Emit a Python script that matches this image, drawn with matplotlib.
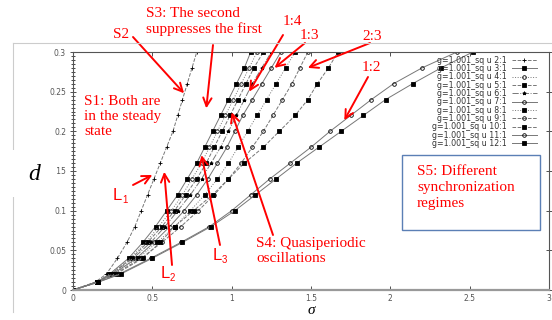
import matplotlib
matplotlib.use("Agg")
import matplotlib.pyplot as plt
from matplotlib.patches import Rectangle
from matplotlib.lines import Line2D
import numpy as np

W, H = 552, 320

# d levels shared by all curves
d_levels = [0, 0.01, 0.02, 0.04, 0.06, 0.08, 0.10, 0.12, 0.14, 0.16, 0.18, 0.20, 0.22, 0.24, 0.26, 0.28, 0.30]

# sigma for each curve, at d_levels
sig_2 = [0, .14, .21, .28, .34, .39, .43, .47, .51, .55, .59, .63, .66, .69, .72, .75, .78]
sig_3 = [0, .15, .23, .35, .44, .52, .59, .66, .72, .78, .83, .88, .93, .98, 1.03, 1.08, 1.12]
sig_4 = [0, .15, .23, .36, .46, .54, .62, .69, .75, .81, .86, .91, .96, 1.01, 1.06, 1.11, 1.16]
sig_5 = [0, .15, .24, .37, .47, .56, .64, .71, .78, .84, .89, .94, .99, 1.04, 1.09, 1.14, 1.20]
sig_6 = [0, .15, .24, .38, .49, .58, .66, .74, .81, .87, .93, .98, 1.03, 1.08, 1.13, 1.19, 1.25]
sig_7 = [0, .15, .25, .40, .51, .61, .70, .78, .85, .91, .97, 1.02, 1.07, 1.13, 1.19, 1.25, 1.31]
sig_8 = [0, .15, .25, .41, .53, .64, .74, .83, .91, .98, 1.04, 1.10, 1.16, 1.22, 1.28, 1.34, 1.40]
sig_9 = [0, .16, .26, .43, .56, .68, .79, .89, .98, 1.06, 1.13, 1.20, 1.26, 1.32, 1.38, 1.43, 1.48]
sig_10 = [0, .16, .27, .44, .55, .64, .76, .88, .98, 1.08, 1.20, 1.30, 1.40, 1.48, 1.54, 1.61, 1.67]
sig_11 = [0, .16, .29, .49, .68, .86, 1.0, 1.12, 1.24, 1.37, 1.50, 1.62, 1.75, 1.88, 2.02, 2.20, 2.42]
sig_12 = [0, .16, .30, .50, .69, .87, 1.02, 1.15, 1.28, 1.41, 1.55, 1.69, 1.83, 1.97, 2.14, 2.32, 2.52]

ratios = ["2:1", "3:1", "4:1", "5:1", "6:1", "7:1", "8:1", "9:1", "10:1", "11:1", "12:1"]
curves = [sig_2, sig_3, sig_4, sig_5, sig_6, sig_7, sig_8, sig_9, sig_10, sig_11, sig_12]
labels = ["g=1.001_sq u " + r for r in ratios]

styles = [("--", "+", "k"), ("-", "s", "k"), (":", "o", "none"), ("--", "s", "k"),
          ("-.", "*", "k"), ("-", "o", "none"), (":", "s", "k"), ("--", "o", "none"),
          ("--", "s", "k"), ("-", "o", "none"), ("-", "s", "k")]

fig = plt.figure(figsize=(W / 100, H / 100), dpi=100)
ax = fig.add_axes([73 / W, 1 - 290 / H, (549 - 73) / W, (290 - 52) / H])

for sig, lab, (ls, mk, fc) in zip(curves, labels, styles):
    ax.plot(sig, d_levels, ls=ls, color="#777777", lw=0.7, marker=mk, ms=2.6,
            mfc=fc, mec="k", mew=0.6, label=lab)

ax.set_xlim(0, 3)
ax.set_ylim(0, 0.3)
ax.set_xticks([0, 0.5, 1, 1.5, 2, 2.5, 3])
ax.set_xticklabels(["0", "0.5", "1", "1.5", "2", "2.5", "3"])
ax.set_yticks([0, 0.05, 0.1, 0.15, 0.2, 0.25, 0.3])
ax.set_yticklabels(["0", "0.05", "0.1", "0.15", "0.2", "0.25", "0.3"])
ax.set_yticks(np.arange(0, 0.3001, 0.005), minor=True)
ax.tick_params(axis="both", labelsize=5.5, labelcolor="#555555", color="#333333",
               direction="in", top=True, right=True, length=3, width=0.6, pad=3)
ax.tick_params(axis="y", which="minor", direction="inout", length=3, width=0.5, left=True, right=False)
ax.tick_params(axis="y", which="major", direction="inout", length=4)
for s in ax.spines.values():
    s.set_color("#555555")
    s.set_linewidth(0.8)
ax.spines["bottom"].set_linewidth(1.6)
ax.spines["bottom"].set_color("#999999")

leg = ax.legend(loc="upper right", bbox_to_anchor=(0.985, 1.005), fontsize=5.7, frameon=False,
                markerfirst=False, labelspacing=-0.08, handlelength=3.2, handletextpad=0.6,
                borderaxespad=0.2)
for t in leg.get_texts():
    t.set_color("#333333")

# outer frame of the pasted picture
fig.add_artist(Line2D([13 / W, 1], [1 - 43 / H, 1 - 43 / H], color="#cccccc", lw=0.8))
fig.add_artist(Line2D([13 / W, 13 / W], [1 - 43 / H, 1 - 312 / H], color="#cccccc", lw=0.8))

# white patch behind the d label
fig.add_artist(Rectangle((12 / W, 1 - 197 / H), 45 / W, 47 / H, transform=fig.transFigure,
                         facecolor="white", edgecolor="none", zorder=5))
fig.text(28 / W, 1 - 174 / H, "d", fontsize=17, family="Liberation Serif", style="italic",
         va="center", ha="left", zorder=6)
fig.text(311 / W, 1 - 311 / H, "σ", fontsize=11, family="Liberation Serif", style="italic",
         va="center", ha="center")

red = "#ff0000"
serif = "Liberation Serif"


def px(x, y):
    return (x / W, 1 - y / H)


def label(x, y, s, size=11, spacing=1.2):
    fig.text(x / W, 1 - y / H, s, color=red, fontsize=size, family=serif, va="top", ha="left",
             linespacing=spacing, zorder=6)


def arrow(tip, start):
    ax.annotate("", xy=tip, xycoords="data", xytext=px(*start), textcoords="figure fraction",
                arrowprops=dict(arrowstyle="->", color=red, lw=1.4, mutation_scale=15,
                                shrinkA=0, shrinkB=0), zorder=6)


label(113, 28, "S2")
label(146, 7, "S3: The second\nsuppresses the first")
label(84, 95, "S1: Both are\nin the steady\nstate")
label(283, 15, "1:4")
label(300, 29, "1:3")
label(362, 30, "2:3")
label(362, 61, "1:2")
label(256, 237, "S4: Quasiperiodic\noscillations")

arrow((0.70, 0.248), (133, 37))
arrow((0.84, 0.229), (213, 45))
arrow((1.11, 0.250), (283, 35))
arrow((1.27, 0.280), (305, 43))
arrow((1.48, 0.280), (370, 43))
arrow((1.71, 0.214), (368, 77))
arrow((1.00, 0.224), (273, 235))
arrow((0.50, 0.145), (133, 185))
arrow((0.575, 0.149), (172, 265))
arrow((0.81, 0.170), (220, 245))

# L labels with subscripts
for (lx, ly, sub) in [(113, 188, "1"), (161, 266, "2"), (213, 248, "3")]:
    fig.text(lx / W, 1 - ly / H, "L", color=red, fontsize=12, family="Liberation Sans",
             va="top", ha="left", zorder=6)
    fig.text((lx + 9) / W, 1 - (ly + 7) / H, sub, color=red, fontsize=7,
             family="Liberation Sans", va="top", ha="left", zorder=6)

# S5 box
fig.add_artist(Rectangle((402 / W, 1 - 230 / H), 138 / W, 75 / H, transform=fig.transFigure,
                         facecolor="white", edgecolor="#5b7fb5", lw=1.0, zorder=5))
label(417, 165, "S5: Different\nsynchronization\nregimes", spacing=1.3)

fig.savefig("out.png", dpi=100)
